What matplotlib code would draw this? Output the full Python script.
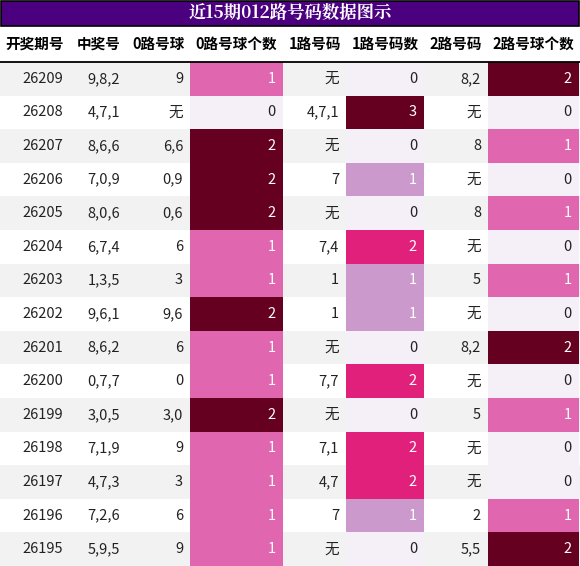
import matplotlib
matplotlib.use("Agg")
import matplotlib.pyplot as plt
from matplotlib.patches import Rectangle

plt.rcParams['font.family'] = ['Noto Sans CJK SC', 'DejaVu Sans']

title = "近15期012路号码数据图示"
headers = ["开奖期号", "中奖号", "0路号球", "0路号球个数", "1路号码", "1路号码数", "2路号码", "2路号球个数"]
periods = ["26209", "26208", "26207", "26206", "26205", "26204", "26203", "26202",
           "26201", "26200", "26199", "26198", "26197", "26196", "26195"]
numbers = ["9,8,2", "4,7,1", "8,6,6", "7,0,9", "8,0,6", "6,7,4", "1,3,5", "9,6,1",
           "8,6,2", "0,7,7", "3,0,5", "7,1,9", "4,7,3", "7,2,6", "5,9,5"]
road0 = ["9", "无", "6,6", "0,9", "0,6", "6", "3", "9,6", "6", "0", "3,0", "9", "3", "6", "9"]
road0_cnt = [1, 0, 2, 2, 2, 1, 1, 2, 1, 1, 2, 1, 1, 1, 1]
road1 = ["无", "4,7,1", "无", "7", "无", "7,4", "1", "1", "无", "7,7", "无", "7,1", "4,7", "7", "无"]
road1_cnt = [0, 3, 0, 1, 0, 2, 1, 1, 0, 2, 0, 2, 2, 1, 0]
road2 = ["8,2", "无", "8", "无", "8", "无", "5", "无", "8,2", "无", "5", "无", "无", "2", "5,5"]
road2_cnt = [2, 0, 1, 0, 1, 0, 1, 0, 2, 0, 1, 0, 0, 1, 2]

col_edges = [0, 70, 127, 190, 283, 346, 424, 488, 579]
W, H = 580, 566
title_h, head_h = 26, 36
row_h = (H - title_h - head_h) / len(periods)

colors_2max = {0: "#f5f0f8", 1: "#e066b0", 2: "#660020"}
colors_3max = {0: "#f5f0f8", 1: "#cc99cc", 2: "#e0207a", 3: "#660020"}

fig = plt.figure(figsize=(W / 100, H / 100), dpi=100)
ax = fig.add_axes([0, 0, 1, 1])
ax.set_xlim(0, W)
ax.set_ylim(H, 0)
ax.axis("off")

# title bar
ax.add_patch(Rectangle((0.5, 0.5), W - 1.5, title_h - 1, facecolor="#4b0080", edgecolor="black", lw=1.2))
ax.text(W / 2, title_h / 2, title, color="white", fontsize=12.5, fontweight="bold",
        ha="center", va="center", family=["Noto Serif CJK SC", "Noto Sans CJK SC", "DejaVu Sans"])

# header
for i, h in enumerate(headers):
    cx = (col_edges[i] + col_edges[i + 1]) / 2
    ax.text(cx, title_h + head_h / 2, h, fontsize=10.5, fontweight="bold", ha="center", va="center")
ax.plot([0, W], [title_h + head_h, title_h + head_h], color="black", lw=1.3)

columns = [periods, numbers, road0, road0_cnt, road1, road1_cnt, road2, road2_cnt]
for r in range(len(periods)):
    y0 = title_h + head_h + r * row_h
    bg = "#f2f2f2" if r % 2 == 0 else "white"
    ax.add_patch(Rectangle((0, y0), W, row_h, facecolor=bg, edgecolor="none"))
    for c, col in enumerate(columns):
        val = col[r]
        tcolor = "#222222"
        if c in (3, 5, 7):
            cmap = colors_3max if c == 5 else colors_2max
            ax.add_patch(Rectangle((col_edges[c], y0), col_edges[c + 1] - col_edges[c], row_h,
                                   facecolor=cmap[val], edgecolor="none"))
            if val > 0:
                tcolor = "white"
        ax.text(col_edges[c + 1] - 7, y0 + row_h / 2, str(val), fontsize=10.5,
                ha="right", va="center", color=tcolor)

fig.savefig("out.png", dpi=100)
